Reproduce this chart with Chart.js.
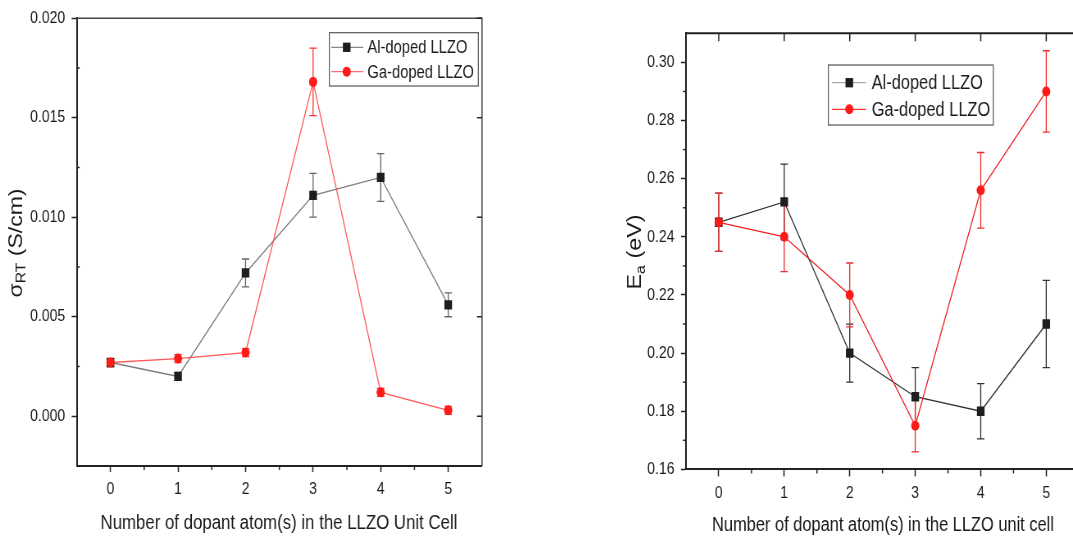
<!DOCTYPE html>
<html><head><meta charset="utf-8">
<script src="https://cdn.jsdelivr.net/npm/chart.js@4.4.1/dist/chart.umd.min.js"></script>
<style>
html,body{margin:0;padding:0;background:#fff;width:1073px;height:540px;overflow:hidden;position:relative;}
.wrap{position:absolute;top:0;height:540px;transform-origin:0 0;transform:scaleX(0.82);}
#w1{left:0;width:659px;}
#w2{left:540px;width:700px;}
</style></head><body>
<div id="w1" class="wrap"><canvas id="c1"></canvas></div>
<div id="w2" class="wrap"><canvas id="c2"></canvas></div>
<script>
// ---------------- data ----------------
const dopantCounts = [0, 1, 2, 3, 4, 5];
const xTickValues = [0, 1, 2, 3, 4, 5];
const xMinorTicks = [0.5, 1.5, 2.5, 3.5, 4.5];
const legendLabels = ['Al-doped LLZO', 'Ga-doped LLZO'];

// left chart: room-temperature conductivity (S/cm)
const sigmaAl    = [0.0027, 0.0020, 0.0072, 0.0111, 0.0120, 0.0056];
const sigmaAlErr = [0.0002, 0.0002, 0.0007, 0.0011, 0.0012, 0.0006];
const sigmaGa    = [0.0027, 0.0029, 0.0032, 0.0168, 0.0012, 0.0003];
const sigmaGaErr = [0.0002, 0.0002, 0.0002, 0.0017, 0.0002, 0.0002];
const sigmaTickValues = [0, 0.005, 0.010, 0.015, 0.020];
const sigmaMinorTicks = [-0.0025, 0.0025, 0.0075, 0.0125, 0.0175];
const sigmaXTitle = 'Number of dopant atom(s) in the LLZO Unit Cell';

// right chart: activation energy (eV)
const eaAl    = [0.245, 0.252, 0.200, 0.185, 0.180, 0.210];
const eaAlErr = [0.010, 0.013, 0.010, 0.010, 0.0095, 0.015];
const eaGa    = [0.245, 0.240, 0.220, 0.175, 0.256, 0.290];
const eaGaErr = [0.010, 0.012, 0.011, 0.009, 0.013, 0.014];
const eaTickValues = [0.16, 0.18, 0.20, 0.22, 0.24, 0.26, 0.28, 0.30];
const eaMinorTicks = [0.17, 0.19, 0.21, 0.23, 0.25, 0.27, 0.29];
const eaXTitle = 'Number of dopant atom(s) in the LLZO unit cell';

// ---------------- helpers ----------------
const SX = 0.82;
const FONT = "'Liberation Sans', Arial, sans-serif";
const TXT = '#1a1a1a';

function drawMarker(ctx, style, x, y, r, color) {
  ctx.save();
  ctx.fillStyle = color;
  ctx.beginPath();
  if (style === 'rect') {
    const s = r * Math.SQRT1_2;
    ctx.rect(x - s, y - s, 2 * s, 2 * s);
  } else {
    ctx.arc(x, y, r, 0, Math.PI * 2);
  }
  ctx.fill();
  ctx.restore();
}

function makePlugins(p) {
  return [{
    id: 'errbars',
    beforeDatasetsDraw(chart) {
      const ctx = chart.ctx, xs = chart.scales.x, ys = chart.scales.y;
      p.err.forEach(e => {
        ctx.save();
        ctx.strokeStyle = e.color;
        ctx.lineWidth = 1.3;
        e.vals.forEach((v, i) => {
          const px = xs.getPixelForValue(dopantCounts[i]);
          const yt = ys.getPixelForValue(v + e.errs[i]);
          const yb = ys.getPixelForValue(v - e.errs[i]);
          ctx.beginPath();
          ctx.moveTo(px, yt); ctx.lineTo(px, yb);
          ctx.moveTo(px - 4.5, yt); ctx.lineTo(px + 4.5, yt);
          ctx.moveTo(px - 4.5, yb); ctx.lineTo(px + 4.5, yb);
          ctx.stroke();
        });
        ctx.restore();
      });
    }
  }, {
    id: 'frame',
    afterDatasetsDraw(chart) {
      const ctx = chart.ctx, a = chart.chartArea, xs = chart.scales.x, ys = chart.scales.y;
      ctx.save();
      ctx.strokeStyle = p.frameColor;
      ctx.lineWidth = p.frameWidth;
      ctx.beginPath();
      ctx.moveTo(a.left, a.top); ctx.lineTo(a.right, a.top); ctx.lineTo(a.right, a.bottom);
      ctx.stroke();
      ctx.strokeStyle = '#222';
      ctx.lineWidth = 1.5;
      p.tickSpecs.forEach(t => {
        t.values.forEach(v => {
          ctx.beginPath();
          if (t.side === 'bottom' || t.side === 'top') {
            const px = xs.getPixelForValue(v);
            const base = t.side === 'bottom' ? a.bottom : a.top;
            const sgn = (t.side === 'bottom') === (t.dir === 'out') ? 1 : -1;
            ctx.moveTo(px, base); ctx.lineTo(px, base + sgn * t.len);
          } else {
            const py = ys.getPixelForValue(v);
            const base = t.side === 'left' ? a.left : a.right;
            const sgn = (t.side === 'left') === (t.dir === 'out') ? -1 : 1;
            ctx.moveTo(base, py); ctx.lineTo(base + sgn * t.len / SX, py);
          }
          ctx.stroke();
        });
      });
      ctx.restore();
    }
  }, {
    id: 'legendAndTitles',
    afterDraw(chart) {
      const ctx = chart.ctx;
      const L = p.legend;
      ctx.save();
      ctx.fillStyle = '#fff';
      ctx.fillRect(L.x1, L.y1, L.x2 - L.x1, L.y2 - L.y1);
      ctx.strokeStyle = '#555';
      ctx.lineWidth = 1.2;
      ctx.strokeRect(L.x1, L.y1, L.x2 - L.x1, L.y2 - L.y1);
      chart.data.datasets.forEach((ds, i) => {
        const y = L.rows[i];
        ctx.strokeStyle = L.lineColors[i];
        ctx.lineWidth = 1.3;
        ctx.beginPath(); ctx.moveTo(L.lx1, y); ctx.lineTo(L.lx2, y); ctx.stroke();
        drawMarker(ctx, ds.pointStyle, L.mx, y, ds.pointRadius, ds.pointBackgroundColor);
        ctx.fillStyle = TXT;
        ctx.font = L.font + 'px ' + FONT;
        ctx.textBaseline = 'middle';
        ctx.textAlign = 'left';
        ctx.fillText(ds.label, L.tx, y + 1);
      });
      // x title
      ctx.fillStyle = TXT;
      ctx.font = p.xTitle.size + 'px ' + FONT;
      ctx.textAlign = 'center';
      ctx.textBaseline = 'middle';
      ctx.fillText(p.xTitle.text, p.xTitle.x, p.xTitle.y);
      // y title with subscript
      const T = p.yTitle;
      const base = 20;
      const measure = (sz) => {
        ctx.font = sz + 'px ' + FONT; const a = ctx.measureText(T.main).width;
        ctx.font = (sz * 0.68) + 'px ' + FONT; const b = ctx.measureText(T.sub).width;
        ctx.font = sz + 'px ' + FONT; const c = ctx.measureText(T.rest).width;
        return [a, b, c];
      };
      let m = measure(base);
      const f = base * T.len / (m[0] + m[1] + m[2]);
      m = measure(f);
      const total = m[0] + m[1] + m[2];
      ctx.translate(T.x, T.y);
      ctx.rotate(-Math.PI / 2);
      ctx.textAlign = 'left';
      ctx.textBaseline = 'middle';
      let cx = -total / 2;
      ctx.font = f + 'px ' + FONT; ctx.fillText(T.main, cx, 0); cx += m[0];
      ctx.font = (f * 0.68) + 'px ' + FONT; ctx.fillText(T.sub, cx, f * 0.28); cx += m[1];
      ctx.font = f + 'px ' + FONT; ctx.fillText(T.rest, cx, 0);
      ctx.restore();
    }
  }];
}

function buildChart(id, p) {
  return new Chart(document.getElementById(id), {
    type: 'line',
    data: {
      datasets: [{
        label: legendLabels[0],
        data: dopantCounts.map((x, i) => ({ x: x, y: p.al[i] })),
        borderColor: p.alLine, borderWidth: 1.3, tension: 0, fill: false,
        pointStyle: 'rect', pointRadius: 6.6, pointBorderWidth: 0,
        pointBackgroundColor: '#1e1e1e', pointBorderColor: '#1e1e1e', order: 2
      }, {
        label: legendLabels[1],
        data: dopantCounts.map((x, i) => ({ x: x, y: p.ga[i] })),
        borderColor: p.gaLine, borderWidth: 1.3, tension: 0, fill: false,
        pointStyle: 'circle', pointRadius: 5, pointBorderWidth: 0,
        pointBackgroundColor: '#ff1a1a', pointBorderColor: '#ff1a1a', order: 1
      }]
    },
    options: {
      responsive: true, maintainAspectRatio: false, animation: false, events: [],
      layout: { padding: { left: 0, top: p.top, right: p.padRight, bottom: 0 } },
      plugins: { legend: { display: false }, tooltip: { enabled: false }, title: { display: false } },
      scales: {
        x: {
          type: 'linear', min: -0.5, max: 5.5,
          afterBuildTicks: s => { s.ticks = xTickValues.map(v => ({ value: v })); },
          afterFit: s => { s.height = p.xH; },
          ticks: { font: { family: FONT, size: 17 }, color: TXT, padding: 7, autoSkip: false, maxRotation: 0,
                   callback: v => String(v) },
          grid: { display: true, drawOnChartArea: false, drawTicks: true, tickLength: p.xTickLen, tickWidth: 1.5, tickColor: '#222' },
          border: { display: true, width: 2, color: '#222' }
        },
        y: {
          type: 'linear', min: p.ymin, max: p.ymax,
          afterBuildTicks: s => { s.ticks = p.yTicks.map(v => ({ value: v })); },
          afterFit: s => { s.width = p.yW; },
          ticks: { font: { family: FONT, size: 17 }, color: TXT, padding: 8, autoSkip: false,
                   callback: v => v.toFixed(p.dec) },
          grid: { display: true, drawOnChartArea: false, drawTicks: true, tickLength: 5 / SX, tickWidth: 1.5, tickColor: '#222' },
          border: { display: true, width: 2, color: '#222' }
        }
      }
    },
    plugins: makePlugins(p)
  });
}

buildChart('c1', {
  al: sigmaAl, ga: sigmaGa,
  alLine: 'rgba(110,110,110,0.9)', gaLine: 'rgba(255,60,60,0.85)',
  ymin: -0.0025, ymax: 0.020, yTicks: sigmaTickValues, dec: 3,
  top: 16, padRight: 71.2, xH: 74, yW: 93.5, xTickLen: 6,
  frameColor: '#444', frameWidth: 1.5,
  err: [{ vals: sigmaAl, errs: sigmaAlErr, color: '#666' },
        { vals: sigmaGa, errs: sigmaGaErr, color: '#ff3030' }],
  tickSpecs: [
    { side: 'bottom', values: xMinorTicks, len: 4, dir: 'out' },
    { side: 'left', values: sigmaMinorTicks, len: 3, dir: 'in' },
    { side: 'right', values: sigmaTickValues, len: 5, dir: 'in' }
  ],
  legend: { x1: 401.6, y1: 32.7, x2: 583.3, y2: 86, rows: [47.3, 71.7], lx1: 404, lx2: 443, mx: 422.8, tx: 447.9, font: 18,
            lineColors: ['#888', '#ff6a6a'] },
  xTitle: { text: sigmaXTitle, x: 340.2, y: 523, size: 20.5 },
  yTitle: { main: 'σ', sub: 'RT', rest: ' (S/cm)', x: 20.7, y: 243, len: 109 }
});

buildChart('c2', {
  al: eaAl, ga: eaGa,
  alLine: '#333', gaLine: '#ee2020',
  ymin: 0.16, ymax: 0.31, yTicks: eaTickValues, dec: 2,
  top: 33.3, padRight: 42.7, xH: 70.6, yW: 178, xTickLen: 7,
  frameColor: '#222', frameWidth: 2,
  err: [{ vals: eaAl, errs: eaAlErr, color: '#333' },
        { vals: eaGa, errs: eaGaErr, color: '#f03030' }],
  tickSpecs: [
    { side: 'top', values: xTickValues, len: 8, dir: 'in' },
    { side: 'bottom', values: xMinorTicks, len: 4, dir: 'out' },
    { side: 'left', values: eaMinorTicks, len: 3, dir: 'out' },
    { side: 'right', values: eaTickValues, len: 6, dir: 'in' }
  ],
  legend: { x1: 351.6, y1: 65, x2: 552.8, y2: 125, rows: [82.7, 109.3], lx1: 356, lx2: 397.6, mx: 377.2, tx: 404.5, font: 20,
            lineColors: ['#aaa', '#ff3030'] },
  xTitle: { text: eaXTitle, x: 418.3, y: 525, size: 20 },
  yTitle: { main: 'E', sub: 'a', rest: ' (eV)', x: 117, y: 252, len: 75 }
});
</script>
</body></html>
